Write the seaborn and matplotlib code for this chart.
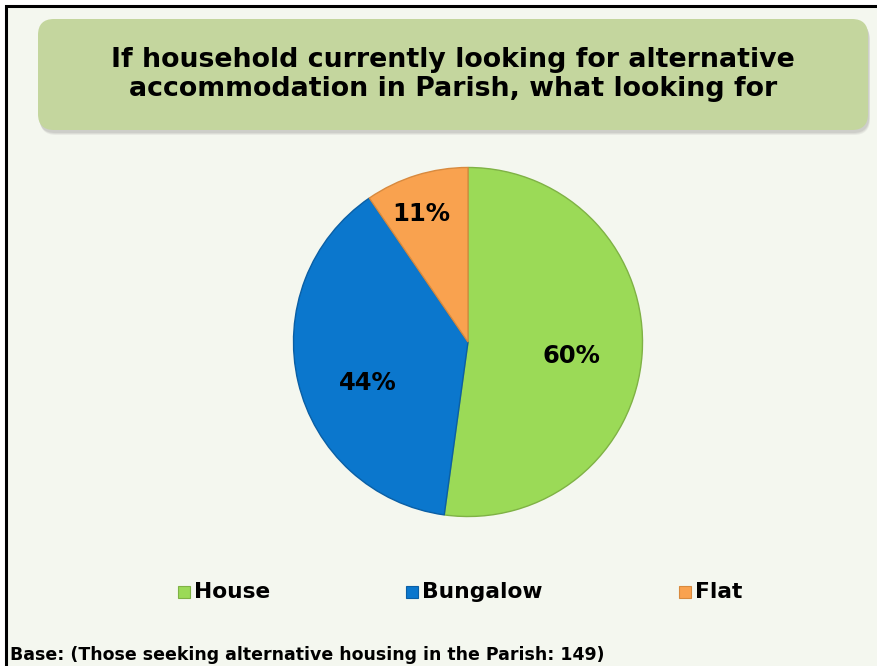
import matplotlib
matplotlib.use("Agg")
import matplotlib.pyplot as plt
from matplotlib.patches import FancyBboxPatch, Rectangle
import numpy as np
import seaborn as sns

# Survey responses: what households looking to move within the parish are after
categories = ["House", "Bungalow", "Flat"]
values = [60, 44, 11]  # percent of respondents (multiple answers allowed)
title_lines = ["If household currently looking for alternative",
               "accommodation in Parish, what looking for"]
base_note = "Base: (Those seeking alternative housing in the Parish: 149)"

sns.set_theme(style="white")
plt.rcParams["font.family"] = ["DejaVu Sans"]

colors = sns.color_palette(["#9BDA57", "#0B77CD", "#F9A24F"])
edges = ["#7FB245", "#0A5FA5", "#D88A3E"]

W, H = 878, 666
fig = plt.figure(figsize=(W / 100, H / 100), dpi=100)
fig.patch.set_facecolor("white")

# Full-figure overlay working in pixel units
bg = fig.add_axes([0, 0, 1, 1])
bg.set_xlim(0, W)
bg.set_ylim(H, 0)
bg.axis("off")
bg.add_patch(Rectangle((6, 6), W + 10, H + 10, facecolor="#F4F7EF",
                       edgecolor="black", linewidth=2.2, zorder=0))

# Title panel with soft drop shadow
for off, alpha in [(5, 0.10), (4, 0.12), (3, 0.15)]:
    bg.add_patch(FancyBboxPatch((38 + off * 0.4, 19 + off), 830, 111,
                                boxstyle="round,pad=0,rounding_size=16",
                                facecolor="#7f7f7f", edgecolor="none",
                                alpha=alpha, zorder=1))
bg.add_patch(FancyBboxPatch((38, 19), 830, 111,
                            boxstyle="round,pad=0,rounding_size=16",
                            facecolor="#C4D69E", edgecolor="none", zorder=2))
bg.text(453, 60, title_lines[0], ha="center", va="center", fontsize=19.3,
        fontweight="bold", color="black", zorder=3)
bg.text(453, 89, title_lines[1], ha="center", va="center", fontsize=19.3,
        fontweight="bold", color="black", zorder=3)

# Legend row: swatch then bold label
legend_x = [178, 406, 679]
for x, cat, col, ec in zip(legend_x, categories, colors, edges):
    bg.add_patch(Rectangle((x, 586), 12, 12, facecolor=col,
                           edgecolor=ec, linewidth=0.8, zorder=3))
    bg.text(x + 16, 592, cat, ha="left", va="center", fontsize=15.7,
            fontweight="bold", color="black", zorder=3)

bg.text(10, 655, base_note, ha="left", va="center", fontsize=12.5,
        fontweight="bold", color="black", zorder=3)

# Pie chart
cx, cy, r = 468, 342, 178
ax = fig.add_axes([(cx - r) / W, (H - cy - r) / H, 2 * r / W, 2 * r / H])
ax.set_facecolor("none")
wedges, _ = ax.pie(values, colors=colors, startangle=90, counterclock=False,
                   radius=1.0,
                   wedgeprops=dict(linewidth=1.0, edgecolor="#8a9a7a"))
for w, ec in zip(wedges, edges):
    w.set_edgecolor(ec)
ax.set_xlim(-1.02, 1.02)
ax.set_ylim(-1.02, 1.02)
ax.set_aspect("equal")
ax.axis("off")

# Percentage labels inside each slice
label_dist = [0.60, 0.62, 0.78]
label_shift = [-4, 9, 3]  # angular nudge in degrees
for w, v, d, s in zip(wedges, values, label_dist, label_shift):
    ang = np.deg2rad((w.theta1 + w.theta2) / 2 + s)
    ax.text(d * np.cos(ang), d * np.sin(ang), f"{v}%", ha="center",
            va="center", fontsize=17.5, fontweight="bold", color="black")

fig.savefig("out.png", dpi=100, facecolor=fig.get_facecolor())
